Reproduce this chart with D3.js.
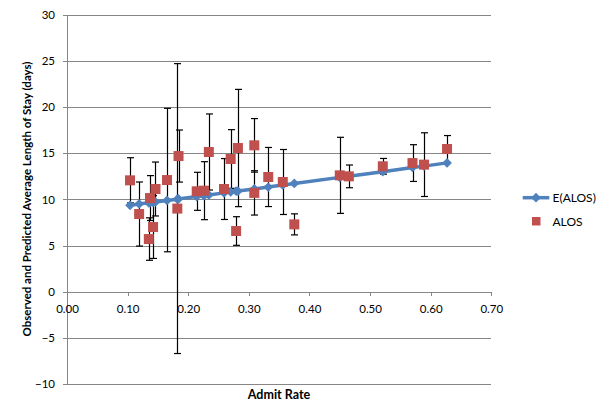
<!DOCTYPE html>
<html>
<head>
<meta charset="utf-8">
<script src="https://cdn.jsdelivr.net/npm/d3@7"></script>
<style>
  html, body { margin: 0; padding: 0; background: #fff; }
  svg { display: block; }
  text { font-family: Lato, "Open Sans", sans-serif; fill: #000; }
</style>
</head>
<body>
<svg id="chart" width="603" height="419"></svg>
<script>
// ---- Data ----
const admitRate = [0.104, 0.119, 0.135, 0.137, 0.142, 0.146, 0.165, 0.182, 0.184, 0.214, 0.226, 0.234, 0.259, 0.270, 0.279, 0.282, 0.309, 0.309, 0.332, 0.356, 0.375, 0.450, 0.465, 0.521, 0.570, 0.589, 0.627];
const alos      = [12.06, 8.41, 5.70, 10.14, 7.00, 11.12, 12.09, 9.00, 14.69, 10.87, 10.94, 15.13, 11.12, 14.37, 6.57, 15.56, 15.85, 10.70, 12.42, 11.88, 7.29, 12.60, 12.49, 13.58, 13.93, 13.76, 15.45];
const alosErr   = [2.45, 3.47, 2.30, 2.43, 3.40, 2.92, 7.77, 15.70, 2.82, 2.06, 3.14, 4.12, 3.30, 3.18, 1.55, 6.35, 2.90, 2.40, 3.20, 3.52, 1.14, 4.12, 1.23, 0.85, 1.99, 3.45, 1.46];
const expected  = [9.35, 9.50, 9.62, 9.65, 9.68, 9.72, 9.88, 10.02, 10.05, 10.30, 10.40, 10.48, 10.70, 10.80, 10.88, 10.90, 11.12, 11.12, 11.33, 11.55, 11.72, 12.38, 12.50, 13.00, 13.45, 13.60, 13.95];
const xTicks = [0, 0.1, 0.2, 0.3, 0.4, 0.5, 0.6, 0.7];
const yTicks = [-10, -5, 0, 5, 10, 15, 20, 25, 30];
const seriesNames = ["E(ALOS)", "ALOS"];
const xTitle = "Admit Rate";
const yTitle = "Observed and Predicted Average Length of Stay (days)";

const blue = "#4F81BD", red = "#C0504D", grid = "#868686";

const svg = d3.select("#chart");
const x = d3.scaleLinear().domain([0, 0.7]).range([67, 491.3]);
const y = d3.scaleLinear().domain([-10, 30]).range([384, 14.7]);

// gridlines
svg.append("g")
  .attr("transform", `translate(${x(0)},0)`)
  .call(d3.axisLeft(y).tickValues(yTicks).tickSize(-(x(0.7) - x(0))).tickFormat(""))
  .call(g => g.select(".domain").remove())
  .call(g => g.selectAll("line").attr("stroke", grid).attr("shape-rendering", "crispEdges"));

// y axis
svg.append("g")
  .attr("transform", `translate(${x(0)},0)`)
  .call(d3.axisLeft(y).tickValues(yTicks).tickSize(4).tickPadding(8).tickFormat(d3.format("d")))
  .call(g => g.select(".domain").attr("stroke", grid).attr("shape-rendering", "crispEdges"))
  .call(g => g.selectAll("line").attr("stroke", grid).attr("shape-rendering", "crispEdges"))
  .call(g => g.selectAll("text").style("font-size", "11.5px").attr("fill", "#000"));

// x axis at y = 0
svg.append("g")
  .attr("transform", `translate(0,${y(0)})`)
  .call(d3.axisBottom(x).tickValues(xTicks).tickSize(4).tickPadding(9).tickFormat(d3.format(".2f")))
  .call(g => g.select(".domain").attr("stroke", grid).attr("shape-rendering", "crispEdges"))
  .call(g => g.selectAll("line").attr("stroke", grid).attr("shape-rendering", "crispEdges"))
  .call(g => g.selectAll("text").style("font-size", "11.5px").attr("fill", "#000"));

const pts = admitRate.map((a, i) => ({ a, v: alos[i], e: alosErr[i], p: expected[i] }));

// error bars
const eb = svg.append("g").attr("stroke", "#000").attr("stroke-width", 1.2);
pts.forEach(d => {
  const cx = Math.round(x(d.a)) + 0.5;
  eb.append("line").attr("x1", cx).attr("x2", cx).attr("y1", y(d.v + d.e)).attr("y2", y(d.v - d.e));
  [d.v + d.e, d.v - d.e].forEach(val => {
    eb.append("line").attr("x1", cx - 3.5).attr("x2", cx + 3.5).attr("y1", y(val)).attr("y2", y(val));
  });
});

// expected line
const line = d3.line().x(d => x(d.a)).y(d => y(d.p));
svg.append("path").datum(pts).attr("d", line)
  .attr("fill", "none").attr("stroke", blue).attr("stroke-width", 3.5).attr("stroke-linejoin", "round");
const diamond = d3.symbol().type(d3.symbolDiamond2).size(60);
svg.append("g").selectAll("path").data(pts).join("path")
  .attr("d", diamond).attr("transform", d => `translate(${x(d.a)},${y(d.p)})`).attr("fill", blue);

// observed squares
svg.append("g").selectAll("rect").data(pts).join("rect")
  .attr("x", d => x(d.a) - 5).attr("y", d => y(d.v) - 5)
  .attr("width", 10).attr("height", 10).attr("fill", red);

// axis titles
svg.append("text").attr("x", 279).attr("y", 399).attr("text-anchor", "middle")
  .style("font-size", "12.5px").style("font-weight", "bold").text(xTitle);
svg.append("text").attr("transform", "translate(31,199) rotate(-90)").attr("text-anchor", "middle")
  .style("font-size", "11.5px").style("font-weight", "bold").text(yTitle);

// legend
const lg = svg.append("g");
lg.append("line").attr("x1", 522.7).attr("x2", 549.3).attr("y1", 197.7).attr("y2", 197.7)
  .attr("stroke", blue).attr("stroke-width", 3.5);
lg.append("path").attr("d", diamond).attr("transform", "translate(536,197.7)").attr("fill", blue);
lg.append("text").attr("x", 552.5).attr("y", 197.7).attr("dy", "0.35em").style("font-size", "12px").text(seriesNames[0]);
lg.append("rect").attr("x", 532).attr("y", 217).attr("width", 8.5).attr("height", 8.5).attr("fill", red);
lg.append("text").attr("x", 552.5).attr("y", 221.3).attr("dy", "0.35em").style("font-size", "12px").text(seriesNames[1]);
</script>
</body>
</html>
